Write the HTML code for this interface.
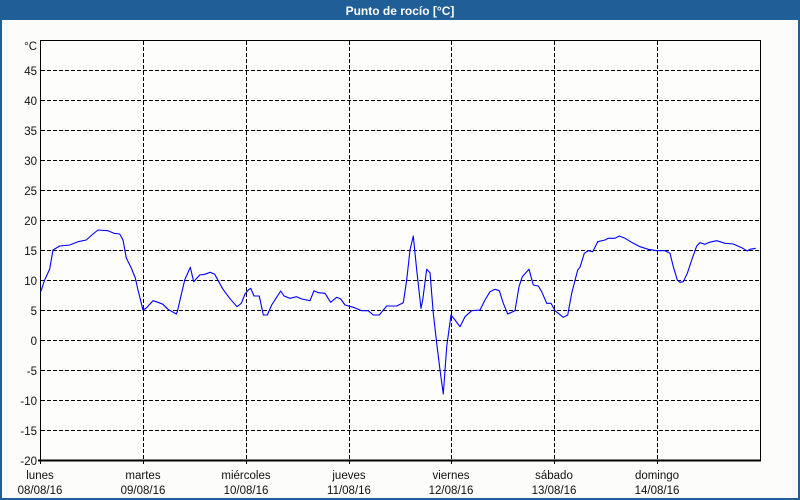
<!DOCTYPE html>
<html>
<head>
<meta charset="utf-8">
<style>
  html,body{margin:0;padding:0;}
  body{width:800px;height:500px;overflow:hidden;background:#fcfdfa;}
  svg{display:block;}
  text{font-family:"Liberation Sans","DejaVu Sans",sans-serif;}
</style>
</head>
<body>
<svg width="800" height="500" viewBox="0 0 800 500" xmlns="http://www.w3.org/2000/svg">
  <rect x="0" y="0" width="800" height="500" fill="#fcfdfa"/>
  <!-- outer border -->
  <rect x="1" y="1" width="798" height="498" fill="none" stroke="#1f5e96" stroke-width="2"/>
  <!-- title bar -->
  <rect x="0" y="0" width="800" height="20" fill="#1f5e96"/>
  <text x="400" y="15" fill="#ffffff" font-size="12" font-weight="bold" text-anchor="middle">Punto de rocío [°C]</text>

  <!-- plot area -->
  <rect x="40" y="40" width="720" height="420" fill="#fdfefc"/>

  <!-- horizontal grid -->
  <g stroke="#000" stroke-width="1" stroke-dasharray="4 2" shape-rendering="crispEdges">
    <line x1="41" y1="70.5" x2="760" y2="70.5"/>
    <line x1="41" y1="100.5" x2="760" y2="100.5"/>
    <line x1="41" y1="130.5" x2="760" y2="130.5"/>
    <line x1="41" y1="160.5" x2="760" y2="160.5"/>
    <line x1="41" y1="190.5" x2="760" y2="190.5"/>
    <line x1="41" y1="220.5" x2="760" y2="220.5"/>
    <line x1="41" y1="250.5" x2="760" y2="250.5"/>
    <line x1="41" y1="280.5" x2="760" y2="280.5"/>
    <line x1="41" y1="310.5" x2="760" y2="310.5"/>
    <line x1="41" y1="340.5" x2="760" y2="340.5"/>
    <line x1="41" y1="370.5" x2="760" y2="370.5"/>
    <line x1="41" y1="400.5" x2="760" y2="400.5"/>
    <line x1="41" y1="430.5" x2="760" y2="430.5"/>
  </g>
  <!-- vertical grid -->
  <g stroke="#000" stroke-width="1" stroke-dasharray="4 2" shape-rendering="crispEdges">
    <line x1="143.5" y1="41" x2="143.5" y2="464"/>
    <line x1="246.5" y1="41" x2="246.5" y2="464"/>
    <line x1="349.5" y1="41" x2="349.5" y2="464"/>
    <line x1="451.5" y1="41" x2="451.5" y2="464"/>
    <line x1="554.5" y1="41" x2="554.5" y2="464"/>
    <line x1="657.5" y1="41" x2="657.5" y2="464"/>
  </g>

  <!-- frame -->
  <g stroke="#000" shape-rendering="crispEdges" fill="none">
    <line x1="40.5" y1="40" x2="40.5" y2="464" stroke-width="1"/>
    <line x1="40" y1="40.5" x2="761" y2="40.5" stroke-width="1"/>
    <line x1="760.5" y1="40" x2="760.5" y2="461" stroke-width="1"/>
    <line x1="38" y1="460.5" x2="761" y2="460.5" stroke-width="2"/>
  </g>

  <!-- series -->
  <polyline fill="none" stroke="#0000ff" stroke-width="1.1" stroke-linejoin="round" points="
40.7,291.7 44.7,280 49.7,269 53,250 59.7,246 69.7,245 78,241.7 86.3,240 93,234 98,230 108,230.7 114,233.3 119.7,234 123,240 126.3,258 131.3,268 135.3,278 138,290 143,310 146.3,308 153,300.7 156.3,301.7 163,304.3 168,309.3 176.3,314 177.3,311.7 184.7,280 190.3,267.3 193.7,281.7 199.7,275 204.7,274.3 210.3,272.3 214.7,274.3 223,289.3 229.7,298.3 237,306.7 241.3,303.3 245,294 248.3,290 250.7,288.3 254,296 259.3,296 263.3,315 267.3,315 271.7,305 276,298.3 280.7,291 284,296 290,298.3 296.7,296.7 301.7,299 310,300.7 314,290.7 318.3,292.7 325,293.3 330.7,302.3 336.7,297.3 340.7,299 345,305 353.3,307.3 361.7,310.7 368.3,310.7 373.3,315 379.3,315 386.7,306 396.7,306 403.3,302.7 406.7,280 410,250 413.3,236 416.7,270 421,308.3 422.7,300 426.7,269.3 430,272.7 433.3,313.3 436.7,343.3 440,370 443.3,394 446.7,346.7 451,315 455,320 460,326.7 465,316.7 471.7,310.7 480,310 485,300 490,291.7 495,289.3 499.3,290.7 503.3,303.3 507.7,314 515,310.7 519,286.7 522.3,276.7 529,269.3 533.3,285 538.3,286 541.7,291.7 546.7,303.3 551,303.3 555,310.7 563.3,317.3 567.7,315 571.7,293.3 577.7,270 580,267.3 584.3,253.3 588.3,250.7 592.7,251.7 597.7,241.7 605,240 608.3,238.3 615,238.3 619.3,236 625,238.3 633.3,243.3 640,246.7 648.3,249.3 656.7,250.7 665,250.7 670,253.3 673.3,266.7 677.3,280 680,282.3 683.3,281.7 687.3,273.3 691.7,260 696.7,246 700,242.7 705,244.3 709.3,242.3 716.7,240.7 725,243.3 733.3,244 741.7,247.7 747.3,251 750,249.3 755.7,248.3"/>

  <!-- y labels -->
  <g font-size="11.5" fill="#111" text-anchor="end">
    <text x="37" y="50">°C</text>
    <text x="37" y="75">45</text>
    <text x="37" y="105">40</text>
    <text x="37" y="135">35</text>
    <text x="37" y="165">30</text>
    <text x="37" y="195">25</text>
    <text x="37" y="225">20</text>
    <text x="37" y="255">15</text>
    <text x="37" y="285">10</text>
    <text x="37" y="315">5</text>
    <text x="37" y="345">0</text>
    <text x="37" y="375">-5</text>
    <text x="37" y="405">-10</text>
    <text x="37" y="435">-15</text>
    <text x="37" y="465">-20</text>
  </g>

  <!-- x labels -->
  <g font-size="11.5" fill="#111" text-anchor="middle">
    <text x="40" y="479">lunes</text>
    <text x="40" y="494">08/08/16</text>
    <text x="143" y="479">martes</text>
    <text x="143" y="494">09/08/16</text>
    <text x="246" y="479">miércoles</text>
    <text x="246" y="494">10/08/16</text>
    <text x="349" y="479">jueves</text>
    <text x="349" y="494">11/08/16</text>
    <text x="451" y="479">viernes</text>
    <text x="451" y="494">12/08/16</text>
    <text x="554" y="479">sábado</text>
    <text x="554" y="494">13/08/16</text>
    <text x="657" y="479">domingo</text>
    <text x="657" y="494">14/08/16</text>
  </g>
</svg>
</body>
</html>
